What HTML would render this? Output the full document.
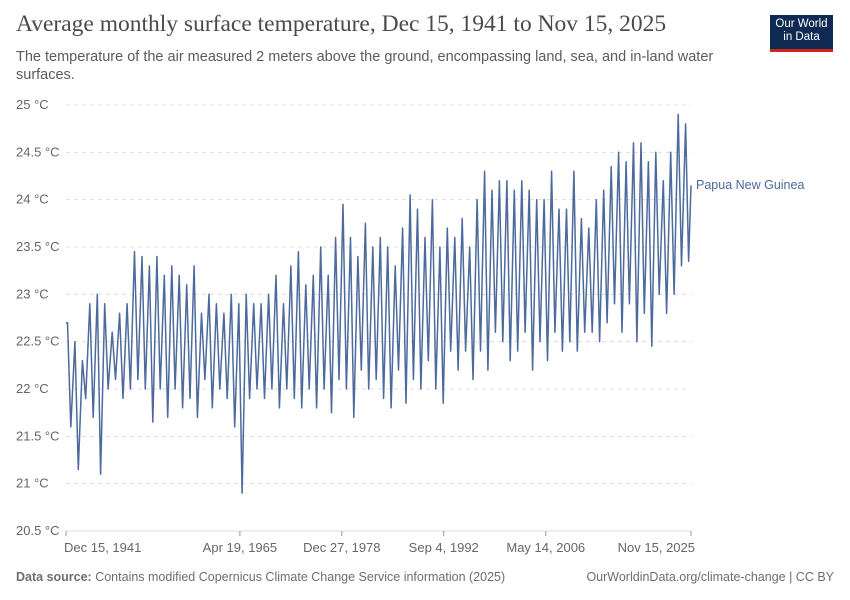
<!DOCTYPE html>
<html><head><meta charset="utf-8">
<style>
body{margin:0;background:#fff;width:850px;height:600px;overflow:hidden;font-family:"Liberation Sans",sans-serif;}
.t{position:absolute;left:16px;top:11px;font-family:"Liberation Serif",serif;font-size:23.5px;color:#4a4a4a;}
.s{position:absolute;left:16px;top:48px;width:740px;font-size:14.5px;line-height:18px;color:#5b5b5b;}
.logo{position:absolute;left:770px;top:15px;width:63px;height:37px;background:#0f2a52;border-bottom:3px solid #ce261e;color:#fff;font-size:11.5px;line-height:13px;text-align:center;padding-top:3px;box-sizing:border-box;}
.f{position:absolute;top:570px;font-size:12.5px;color:#6e6e6e;}
</style></head><body>
<div class="t">Average monthly surface temperature, Dec 15, 1941 to Nov 15, 2025</div>
<div class="s">The temperature of the air measured 2 meters above the ground, encompassing land, sea, and in-land water surfaces.</div>
<div class="logo">Our World<br>in Data</div>
<svg id="c" width="850" height="600" style="position:absolute;left:0;top:0"></svg>
<div class="f" style="left:16px"><b>Data source:</b> Contains modified Copernicus Climate Change Service information (2025)</div>
<div class="f" style="right:16px">OurWorldinData.org/climate-change | CC BY</div>
<script>
const years=[];for(let y=1942;y<=2025;y++)years.push(y);
const peaks=[22.7,22.5,22.3,22.9,23.0,22.9,22.6,22.8,22.9,23.45,
23.4,23.3,23.4,23.2,23.3,23.2,23.1,23.3,22.8,23.0,
22.9,22.8,23.0,22.9,23.0,22.9,22.9,23.0,23.2,22.9,
23.3,23.45,23.1,23.2,23.5,23.2,23.6,23.95,23.6,23.4,
23.75,23.5,23.6,23.5,23.3,23.7,24.05,23.9,23.6,24.0,
23.5,23.7,23.6,23.8,23.5,24.0,24.3,24.1,24.2,24.2,
24.1,24.2,24.1,24.0,24.0,24.3,23.9,23.9,24.3,23.8,
23.7,24.0,24.1,24.35,24.5,24.4,24.6,24.6,24.4,24.5,
24.2,24.5,24.9,24.8];
const troughs=[21.6,21.15,21.9,21.7,21.1,22.0,22.1,21.9,22.0,22.1,
22.0,21.65,22.0,21.7,22.0,21.8,21.9,21.7,22.1,21.8,
22.0,21.9,21.6,20.9,21.9,22.0,21.9,22.0,21.8,22.0,
21.9,21.8,22.0,21.8,22.0,21.75,22.1,22.0,21.7,22.2,
22.0,22.1,21.9,21.8,22.2,21.85,22.1,22.0,22.3,22.0,
21.85,22.4,22.2,22.4,22.1,22.4,22.2,22.6,22.5,22.3,
22.4,22.6,22.2,22.5,22.3,22.6,22.4,22.5,22.4,22.6,
22.6,22.5,22.7,22.9,22.6,22.9,22.5,22.8,22.45,23.0,
22.8,23.0,23.3,23.35];
const yTicks=[20.5,21,21.5,22,22.5,23,23.5,24,24.5,25];
const xTickYears=[1941.95,1965.3,1978.99,1992.67,2006.37,2025.87];
const xTickLabels=["Dec 15, 1941","Apr 19, 1965","Dec 27, 1978","Sep 4, 1992","May 14, 2006","Nov 15, 2025"];
const startVal=22.7,endVal=24.15;
const X0=66,X1=691,T0=1941.95,T1=2025.87;
const xs=t=>X0+(t-T0)/(T1-T0)*(X1-X0);
const ys=v=>531-(v-20.5)/4.5*426;
const svg=document.getElementById('c');const NS='http://www.w3.org/2000/svg';
function mk(tag,a){const e=document.createElementNS(NS,tag);for(const k in a)e.setAttribute(k,a[k]);svg.appendChild(e);return e;}
yTicks.forEach(v=>{
 const l=mk('line',{x1:X0,x2:X1,y1:ys(v),y2:ys(v),stroke:'#dcdcdc','stroke-dasharray':v===20.5?'':'4,4'});
 
 
 const t=mk('text',{x:16,y:ys(v)+4,'font-size':13,fill:'#666'});t.textContent=v+' °C';
 
 
});
xTickYears.forEach((yr,i)=>{
 const x=xs(yr);
 const tk=mk('line',{x1:x,x2:x,y1:531,y2:536,stroke:'#999'});
 
 
 const anchor=i===0?'start':(i===xTickYears.length-1?'end':'middle');
 const t=mk('text',{x:i===0?x-2:(i===xTickYears.length-1?x+4:x),y:552,'font-size':13,fill:'#666','text-anchor':anchor});t.textContent=xTickLabels[i];
 
 
});
let pts=[[T0,startVal]];
years.forEach((y,i)=>{pts.push([y+0.15,peaks[i]]);pts.push([y+(y<2025?0.6:0.55),troughs[i]]);});
pts.push([T1,endVal]);
const d=pts.map((p,i)=>(i?'L':'M')+xs(p[0]).toFixed(1)+','+ys(p[1]).toFixed(1)).join('');
const path=mk('path',{d:d,fill:'none',stroke:'#4c6a9c','stroke-width':1.5,'stroke-linejoin':'round'});


const lb=mk('text',{x:696,y:189,'font-size':12.5,fill:'#4c6a9c'});lb.textContent='Papua New Guinea';


</script>
</body></html>
